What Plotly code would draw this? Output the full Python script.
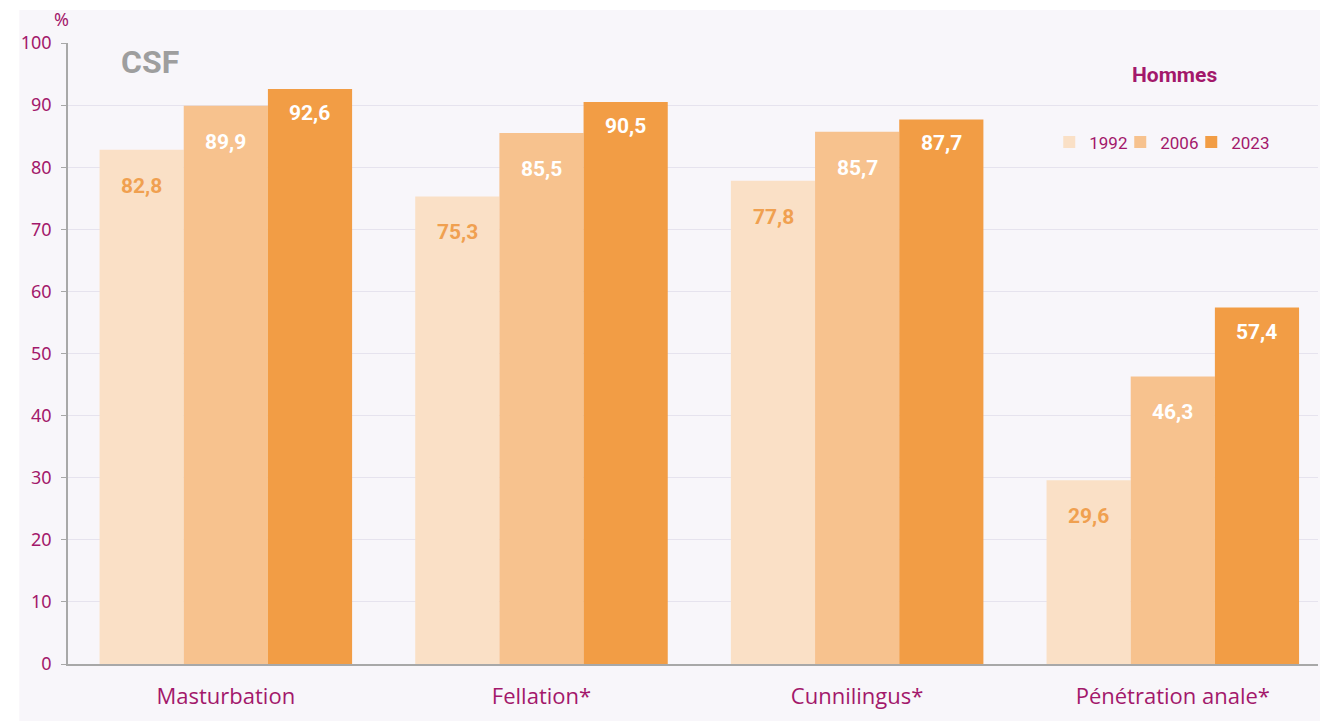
import plotly.graph_objects as go

categories = ["Masturbation", "Fellation*", "Cunnilingus*", "Pénétration anale*"]
years = ["1992", "2006", "2023"]
values_1992 = [82.8, 75.3, 77.8, 29.6]
values_2006 = [89.9, 85.5, 85.7, 46.3]
values_2023 = [92.6, 90.5, 87.7, 57.4]
y_ticks = [0, 10, 20, 30, 40, 50, 60, 70, 80, 90, 100]

BAR_COLORS = ["#FAE0C6", "#F7C28E", "#F29D45"]
LABEL_COLORS = ["#F0A050", "#FFFFFF", "#FFFFFF"]
LABEL_SHIFT = [-36, -36, -24]
LEGEND_X = [0.7850, 0.8418, 0.8986]
MAGENTA = "#A3186B"
PANEL = "#F8F6FA"
GRID = "#E6E3EE"

series = [values_1992, values_2006, values_2023]
legend_ids = ["legend", "legend2", "legend3"]

fig = go.Figure()
for yr, vals, col, lg in zip(years, series, BAR_COLORS, legend_ids):
    fig.add_trace(go.Bar(
        x=categories, y=vals, name=yr, legend=lg,
        marker=dict(color=col, line=dict(width=0)),
        hoverinfo="x+y+name",
    ))

# value labels inside bars, a bit below the top
bar_w = 84
for i, (vals, tcol, dy) in enumerate(zip(series, LABEL_COLORS, LABEL_SHIFT)):
    for cat, v in zip(categories, vals):
        fig.add_annotation(
            x=cat, y=v, xref="x", yref="y",
            text=f"{v:.1f}".replace(".", ","),
            showarrow=False, xshift=(i - 1) * bar_w, yshift=dy,
            font=dict(family="Roboto", size=21, color=tcol, weight="bold"),
        )

# background panel
fig.add_shape(type="rect", xref="paper", yref="paper",
              x0=-0.039, x1=1.01, y0=-0.2, y1=1.053,
              fillcolor=PANEL, line=dict(width=0), layer="below")

# logo
fig.add_annotation(
    x=0.0356, y=0.969, xref="paper", yref="paper", xanchor="left", yanchor="middle",
    text="CSF", showarrow=False, bgcolor=PANEL, borderpad=7,
    font=dict(family="Roboto", size=32, color="#9E9E9E", weight="bold"),
)
fig.add_annotation(
    x=-0.005, y=1.016, xref="paper", yref="paper", xanchor="center", yanchor="bottom",
    text="%", showarrow=False,
    font=dict(family="Noto Sans", size=18, color=MAGENTA),
)
fig.add_annotation(
    x=0.8854, y=0.948, xref="paper", yref="paper", xanchor="center", yanchor="middle",
    text="Hommes", showarrow=False,
    font=dict(family="Roboto", size=21, color=MAGENTA, weight="bold"),
)

leg_style = dict(y=0.84, xanchor="left", yanchor="middle", bgcolor="rgba(0,0,0,0)",
                 font=dict(family="Roboto", size=17, color=MAGENTA), itemwidth=30)

fig.update_layout(
    width=1320, height=721,
    margin=dict(l=68, r=2, t=43, b=57),
    paper_bgcolor="#FFFFFF", plot_bgcolor="rgba(0,0,0,0)",
    barmode="group", bargap=0.2, bargroupgap=0,
    showlegend=True,
    legend=dict(x=LEGEND_X[0], **leg_style),
    legend2=dict(x=LEGEND_X[1], **leg_style),
    legend3=dict(x=LEGEND_X[2], **leg_style),
    xaxis=dict(
        range=[-0.5, 3.46], showgrid=False, showline=True, linecolor="#A8A8A8",
        linewidth=1.5, ticks="", tickfont=dict(family="Open Sans", size=22, color=MAGENTA),
        ticklabelstandoff=12,
    ),
    yaxis=dict(
        range=[0, 100], tickvals=y_ticks, showgrid=True, gridcolor=GRID, gridwidth=1,
        showline=True, linecolor="#A8A8A8", linewidth=1.5, zeroline=False,
        ticks="outside", ticklen=5, tickcolor="#A8A8A8",
        tickfont=dict(family="Noto Sans", size=18, color=MAGENTA),
        ticklabelstandoff=6,
    ),
)

fig.write_html(
    "out.html",
    config={"displayModeBar": False},
    post_script="document.body.style.margin='0';document.body.style.overflow='hidden';",
)
